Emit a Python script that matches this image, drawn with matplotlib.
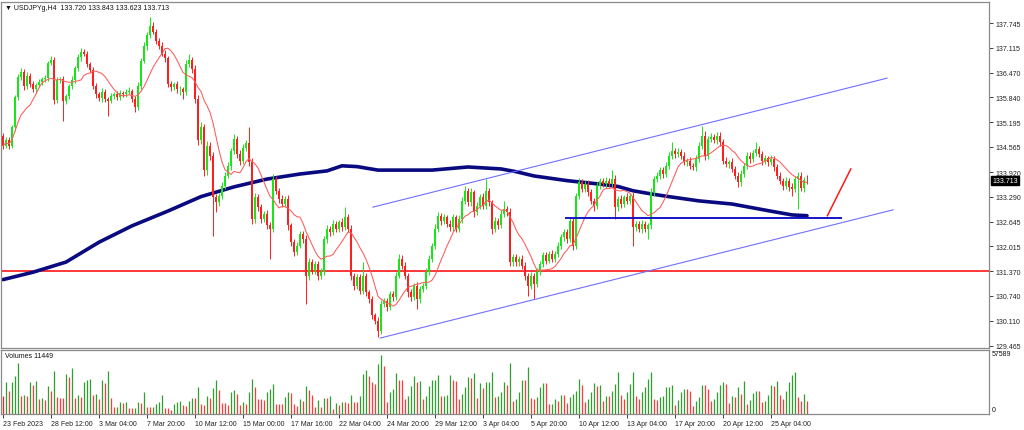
import matplotlib
matplotlib.use("Agg")
import matplotlib.pyplot as plt
import numpy as np
import pandas as pd

# Dados (USDJPY H4)
titulo = "USDJPYg,H4  133.720 133.843 133.623 133.713"
abertura_inicial = 134.85

fechamentos = [
    134.60, 134.73, 134.60, 135.07, 135.84, 136.35, 136.50, 136.12, 136.38, 136.18,
    136.04, 136.15, 136.24, 136.31, 136.34, 136.72, 136.80, 135.78, 136.27, 136.31,
    135.75, 135.86, 136.12, 136.29, 136.58, 136.86, 137.01, 136.95, 136.69, 136.55,
    136.12, 135.92, 135.81, 135.98, 135.80, 135.75, 135.88, 135.92, 135.84, 135.95,
    135.92, 135.98, 136.01, 135.80, 135.58, 136.12, 136.78, 137.15, 137.44, 137.66,
    137.52, 137.29, 137.15, 136.95, 136.84, 136.18, 136.10, 136.18, 136.04, 136.05,
    135.97, 136.69, 136.80, 136.56, 135.79, 134.73, 135.07, 133.96, 134.60, 134.34,
    133.27, 133.14, 133.31, 133.57, 133.83, 134.08, 134.47, 134.77, 134.38, 134.21,
    134.55, 134.67, 134.17, 132.72, 133.27, 133.02, 132.72, 132.85, 132.55, 132.46,
    133.74, 133.44, 133.23, 133.10, 133.23, 132.55, 132.12, 131.86, 132.03, 132.33,
    132.20, 131.26, 131.60, 131.39, 131.56, 131.26, 131.35, 132.20, 132.46, 132.37,
    132.59, 132.46, 132.63, 132.50, 132.76, 132.46, 131.26, 131.00, 131.22, 130.88,
    131.26, 130.83, 130.66, 130.24, 130.11, 129.85, 130.54, 130.62, 130.45, 130.79,
    130.71, 131.26, 131.69, 131.52, 131.26, 130.83, 130.71, 131.00, 130.66, 130.92,
    131.00, 131.35, 131.69, 132.03, 132.46, 132.80, 132.67, 132.76, 132.59, 132.50,
    132.76, 132.46, 132.72, 133.19, 133.44, 133.14, 133.40, 132.89, 133.06, 133.27,
    133.06, 133.44, 133.14, 132.46, 132.67, 132.55, 132.85, 132.97, 132.89, 131.60,
    131.73, 131.60, 131.69, 131.52, 131.26, 131.00, 131.26, 131.05, 131.35, 131.56,
    131.78, 131.65, 131.82, 131.69, 131.82, 132.03, 132.25, 132.37, 132.20, 132.67,
    132.03, 133.31, 133.66, 133.49, 133.61, 133.40, 133.19, 133.06, 133.57, 133.70,
    133.61, 133.70, 133.61, 133.74, 133.02, 133.23, 133.10, 133.27, 133.19, 133.31,
    132.50, 132.59, 132.46, 132.59, 132.46, 132.55, 133.40, 133.74, 133.83, 133.96,
    133.87, 134.08, 134.34, 134.47, 134.38, 134.44, 134.34, 134.17, 134.21, 134.08,
    134.04, 134.25, 134.60, 134.85, 134.34, 134.77, 134.81, 134.73, 134.85, 134.68,
    134.21, 134.13, 134.17, 134.00, 133.83, 133.66, 133.87, 134.08, 134.34, 134.25,
    134.41, 134.51, 134.38, 134.21, 134.27, 134.17, 134.25, 134.04, 133.83, 133.70,
    133.57, 133.70, 133.53, 133.49, 133.74, 133.83, 133.52, 133.72, 133.713,
]

pavio_sup = [
    .06, .08, .10, .05, .07, .09, .08, .06, .10, .07,
    .08, .06, .07, .05, .08, .06, .10, .07, .09, .06,
    .08, .07, .05, .09, .06, .08, .10, .07, .08, .06,
    .07, .08, .06, .09, .07, .05, .08, .06, .07, .08,
    .06, .07, .09, .05, .08, .10, .07, .12, .08, .23,
    .10, .08, .07, .12, .09, .07, .08, .06, .07, .09,
    .06, .10, .15, .08, .12, .10, .14, .08, .12, .10,
    .09, .08, .07, .10, .08, .09, .07, .12, .08, .10,
    .09, .08, .40, .12, .10, .08, .09, .07, .10, .08,
    .12, .08, .07, .10, .08, .09, .07, .08, .10, .09,
    .08, .10, .12, .08, .07, .09, .10, .08, .10, .07,
    .09, .08, .07, .10, .26, .08, .10, .07, .09, .08,
    .34, .08, .07, .09, .06, .08, .10, .08, .07, .09,
    .08, .10, .12, .09, .08, .07, .10, .08, .09, .07,
    .08, .10, .09, .08, .12, .10, .08, .09, .07, .10,
    .08, .07, .10, .09, .13, .08, .10, .07, .09, .08,
    .10, .30, .08, .07, .09, .08, .10, .22, .08, .12,
    .08, .09, .07, .10, .08, .06, .09, .08, .10, .07,
    .08, .09, .07, .10, .08, .09, .07, .10, .08, .09,
    .10, .08, .12, .09, .07, .10, .08, .07, .09, .08,
    .07, .09, .08, .24, .10, .08, .09, .07, .10, .08,
    .09, .08, .07, .09, .08, .07, .10, .09, .08, .10,
    .08, .09, .10, .21, .08, .09, .07, .10, .08, .09,
    .08, .10, .09, .26, .12, .08, .10, .09, .09, .10,
    .08, .09, .07, .10, .08, .09, .10, .08, .09, .10,
    .08, .17, .09, .08, .10, .07, .12, .09, .08, .10,
    .08, .09, .07, .10, .08, .09, .10, .08, .12,
]

pavio_inf = [
    .08, .06, .10, .07, .09, .06, .08, .10, .07, .09,
    .07, .09, .06, .08, .07, .09, .06, .12, .08, .07,
    .51, .09, .07, .06, .08, .07, .09, .06, .08, .10,
    .08, .09, .07, .10, .08, .38, .07, .09, .08, .06,
    .08, .07, .06, .09, .12, .08, .07, .06, .09, .08,
    .07, .09, .08, .06, .10, .08, .09, .07, .08, .15,
    .18, .07, .08, .09, .10, .12, .10, .14, .12, .10,
    .98, .25, .10, .08, .09, .07, .10, .08, .09, .10,
    .08, .09, .10, .14, .12, .09, .10, .08, .09, .77,
    .08, .09, .10, .07, .08, .12, .09, .10, .08, .07,
    .09, .72, .10, .08, .09, .10, .08, .07, .09, .08,
    .07, .09, .08, .10, .07, .09, .12, .10, .08, .09,
    .08, .10, .09, .08, .10, .17, .08, .09, .10, .07,
    .09, .08, .07, .10, .09, .12, .10, .08, .25, .09,
    .08, .09, .07, .08, .09, .07, .10, .08, .09, .08,
    .09, .08, .07, .10, .08, .09, .10, .12, .08, .09,
    .08, .09, .10, .12, .08, .09, .07, .08, .09, .10,
    .09, .08, .10, .09, .12, .25, .08, .39, .09, .08,
    .08, .09, .07, .08, .09, .07, .08, .10, .09, .08,
    .10, .09, .08, .09, .07, .10, .09, .13, .08, .09,
    .08, .09, .07, .08, .30, .09, .10, .08, .09, .08,
    .47, .09, .08, .10, .09, .26, .08, .09, .07, .08,
    .09, .08, .07, .09, .10, .08, .09, .08, .10, .09,
    .08, .09, .07, .08, .10, .09, .08, .07, .09, .08,
    .09, .08, .10, .09, .08, .12, .09, .08, .07, .09,
    .08, .09, .07, .10, .08, .09, .07, .10, .08, .09,
    .10, .08, .09, .18, .08, .77, .09, .10, .09,
]

volumes = [
    16500, 28500, 21000, 28500, 34500, 45600, 16500, 17100, 15900, 29100,
    26100, 30000, 13500, 14100, 12600, 25500, 21000, 38400, 15600, 14700,
    14100, 36000, 33000, 41400, 14100, 17100, 15600, 29100, 30900, 31500,
    17100, 18000, 13500, 30900, 27600, 39000, 14100, 6000, 6600, 11100,
    9900, 10500, 5100, 5100, 5400, 11100, 10200, 20100, 6600, 6000,
    6300, 8700, 11100, 17400, 5400, 5400, 3600, 9000, 11100, 11400,
    7800, 7500, 11700, 14100, 14100, 24600, 9000, 8000, 15900, 14100,
    23100, 30600, 21900, 9900, 9900, 8100, 20100, 21900, 18000, 8100,
    10500, 9000, 19500, 31500, 24000, 13500, 13500, 12600, 20100, 22500,
    27000, 9000, 9000, 9000, 15000, 20100, 18900, 9000, 7000, 13200,
    11400, 25500, 21900, 17100, 6300, 12600, 6000, 14100, 14100, 15900,
    4500, 9900, 8100, 11100, 11100, 9600, 17100, 11100, 11100, 15900,
    36000, 39600, 33900, 29100, 26700, 45000, 53100, 42900, 11100, 19500,
    22500, 36900, 30600, 30600, 13500, 15900, 25500, 34500, 28500, 29400,
    13500, 15900, 25500, 30300, 30900, 35100, 15900, 16500, 17100, 35100,
    30900, 30000, 13500, 18000, 24000, 33000, 32100, 36900, 14100, 27900,
    23100, 28500, 29100, 37500, 15000, 16500,
    20100, 28500, 26100, 45600, 12000, 13500, 20100, 30900, 30900, 42600,
    14100, 13200, 15600, 24600, 27600, 27600, 8700, 9000, 13500, 12000,
    17400, 17100, 9900, 15600, 18000, 21000, 31500, 26400, 10500, 13500,
    20100, 27600, 24900, 26100, 11400, 16500, 15900, 21000, 27000, 37500,
    17400, 13500, 19500, 27000, 37500, 16500, 13500, 20100, 24000, 31500,
    37500, 13500, 12600, 15000, 16500, 24000, 24600, 26400, 8400, 12900,
    20100, 22500, 22500, 21000, 7500, 12000, 15000, 26100, 26100, 22500,
    12000, 13500, 19500, 26100, 28500, 27000, 9600, 15900, 15000, 24000,
    18000, 30000, 9000, 12900, 18600, 21000, 21000, 10500, 12000, 17100,
    26400, 25500, 30000, 17100, 13500, 20400, 28500, 35100, 37500, 15600,
    12000, 18000, 11449,
]
volume_max = 57589

rotulos_x = ["23 Feb 2023", "28 Feb 12:00", "3 Mar 04:00", "7 Mar 20:00", "10 Mar 12:00",
             "15 Mar 00:00", "17 Mar 16:00", "22 Mar 04:00", "24 Mar 20:00", "29 Mar 12:00",
             "3 Apr 04:00", "5 Apr 20:00", "10 Apr 12:00", "13 Apr 04:00", "17 Apr 20:00",
             "20 Apr 12:00", "25 Apr 04:00"]
passo_rotulos = 16

precos_eixo = [137.745, 137.115, 136.470, 135.840, 135.195, 134.565, 133.920,
               133.290, 132.645, 132.015, 131.370, 130.740, 130.110, 129.465]
preco_atual = 133.713

# media longa (azul escuro), lida em pontos do grafico
media_lenta_idx = [0, 10, 21, 32, 43, 55, 66, 77, 88, 99, 108, 113, 118, 125, 132, 143,
                   155, 166, 171, 177, 188, 199, 205, 210, 216, 221, 232, 243, 255, 263, 268]
media_lenta_val = [131.16, 131.35, 131.61, 132.12, 132.54, 132.92, 133.29, 133.54, 133.74,
                   133.87, 133.95, 134.08, 134.06, 133.97, 133.97, 133.97, 134.05, 134.00,
                   133.93, 133.82, 133.70, 133.61, 133.55, 133.44, 133.36, 133.30, 133.18,
                   133.10, 132.93, 132.82, 132.80]
periodo_media = 10

# objetos desenhados (indice do candle, preco)
canal_sup_idx, canal_sup_val = [123.3, 294.7], [133.02, 136.33]
canal_inf_idx, canal_inf_val = [125.7, 296.7], [129.66, 132.95]
suporte_idx, suporte_val = [187.7, 279.3], [132.73, 132.73]
seta_idx, seta_val = [274.8, 282.6], [132.80, 134.00]
linha_vermelha = 131.37

VERDE = "#19e619"
VERMELHO = "#ff1f1f"
BORDA = "#8a8a8a"
FONTE = ["Liberation Sans", "DejaVu Sans"]
plt.rcParams["font.family"] = FONTE

fech = np.array(fechamentos)
aber = np.concatenate([[abertura_inicial], fech[:-1]])
maxs = np.maximum(aber, fech) + np.array(pavio_sup)
mins = np.minimum(aber, fech) - np.array(pavio_inf)
idx = np.arange(len(fech))
cores = np.where(fech >= aber, VERDE, VERMELHO)

vol = np.array(volumes)
cores_vol = [VERMELHO] + ["#2f9f2f" if vol[i] > vol[i - 1] else "#ff3a3a" for i in range(1, len(vol))]

fig = plt.figure(figsize=(10.24, 4.31), dpi=100)
ax = fig.add_axes([1 / 1024, 82 / 431, 988 / 1024, 346 / 431])
axv = fig.add_axes([1 / 1024, 16 / 431, 988 / 1024, 64 / 431])

# linhas de fundo
ax.axhline(linha_vermelha, color="#ff0000", linewidth=1.1, zorder=1)
ax.plot(media_lenta_idx, media_lenta_val, color="#0a0a80", linewidth=2.6,
        solid_capstyle="round", zorder=2)

# candles
ax.vlines(idx, mins, maxs, colors=cores, linewidth=0.7, zorder=3)
altura = np.maximum(np.abs(fech - aber), 0.012)
ax.bar(idx, altura, bottom=np.minimum(aber, fech), width=0.62, color=cores,
       linewidth=0, zorder=4)

# media curta
media = pd.Series(fech).rolling(periodo_media, min_periods=1).mean()
ax.plot(idx, media, color="#ff5a5a", linewidth=0.75, zorder=5)

# linhas desenhadas
ax.plot(canal_sup_idx, canal_sup_val, color="#6f6fff", linewidth=0.8, zorder=6)
ax.plot(canal_inf_idx, canal_inf_val, color="#6f6fff", linewidth=0.8, zorder=6)
ax.plot(suporte_idx, suporte_val, color="#1414c8", linewidth=1.4, zorder=6)
ax.plot(seta_idx, seta_val, color="#ff1a1a", linewidth=1.1, zorder=6)

xlim = (-0.67, 328.67)
ax.set_xlim(*xlim)
ax.set_ylim(129.405, 138.284)
ax.set_xticks([])
ax.yaxis.tick_right()
ax.set_yticks(precos_eixo)
ax.set_yticklabels([f"{p:.3f}" for p in precos_eixo])
ax.tick_params(axis="y", length=3, width=0.6, pad=1.5, labelsize=5,
               colors="#222222", direction="out")
for s in ax.spines.values():
    s.set_color(BORDA)
    s.set_linewidth(0.9)

ax.annotate(f"{preco_atual:.3f}", xy=(1, preco_atual), xycoords=("axes fraction", "data"),
            xytext=(3, 0), textcoords="offset pixels", ha="left", va="center",
            fontsize=5, color="white",
            bbox=dict(boxstyle="square,pad=0.15", fc="black", ec="black"))
ax.annotate("\u25bc " + titulo, xy=(0, 1), xycoords="axes fraction",
            xytext=(4, -6), textcoords="offset pixels", ha="left", va="center",
            fontsize=5, color="#111111")

# volumes
axv.vlines(idx, 0, vol, colors=cores_vol, linewidth=0.9)
axv.set_xlim(*xlim)
axv.set_ylim(0, volume_max)
axv.set_yticks([])
pos_rotulos = [i * passo_rotulos for i in range(len(rotulos_x))]
axv.set_xticks(pos_rotulos)
axv.set_xticklabels(rotulos_x, ha="left")
axv.tick_params(axis="x", length=3, width=0.6, pad=1.5, labelsize=5,
                colors="#222222", direction="out")
for s in axv.spines.values():
    s.set_color(BORDA)
    s.set_linewidth(0.9)
axv.annotate(f"Volumes {volumes[-1]}", xy=(0, 1), xycoords="axes fraction",
             xytext=(4, -6), textcoords="offset pixels", ha="left", va="center",
             fontsize=5, color="#111111")
axv.annotate(str(volume_max), xy=(1, 1), xycoords="axes fraction",
             xytext=(3, -4), textcoords="offset pixels", ha="left", va="center",
             fontsize=5, color="#111111")
axv.annotate("0", xy=(1, 0), xycoords="axes fraction",
             xytext=(3, 4), textcoords="offset pixels", ha="left", va="center",
             fontsize=5, color="#111111")

fig.savefig("out.png", dpi=100)
